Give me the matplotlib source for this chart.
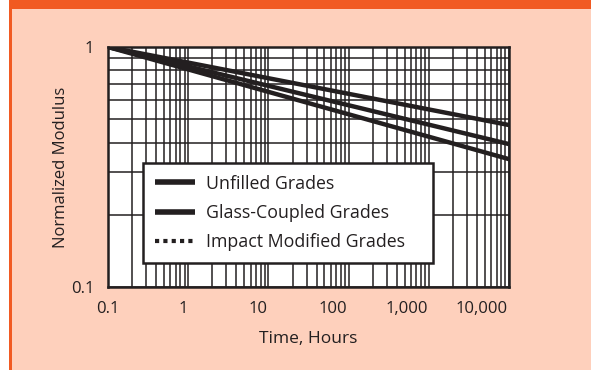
"""Creep modulus retention vs time, log-log chart
"""

import matplotlib
matplotlib.use("Agg")
import matplotlib.pyplot as plt
import matplotlib.ticker as ticker
from matplotlib.lines import Line2D
from matplotlib.patches import Rectangle

# Data
time_hours = [0.1, 10000]
unfilled = [1.0, 0.394]
glass_coupled = [1.0, 0.473]
impact_modified = [1.0, 0.341]

series_names = ["Unfilled Grades", "Glass-Coupled Grades", "Impact Modified Grades"]
tick_values = [0.1, 1, 10, 100, 1000, 10000]
tick_labels = ["0.1", "1", "10", "100", "1,000", "10,000"]

INK = "#231f20"
ORANGE = "#f15a22"
PEACH = "#fed0bc"

plt.rcParams["font.family"] = ["Open Sans", "DejaVu Sans"]

W, H = 591, 370
fig = plt.figure(figsize=(W / 100, H / 100), dpi=100, facecolor=PEACH)

# Page frame: white margin, orange bar on top and thin strip on the left
fig.patches.append(Rectangle((0, 0), 9 / W, 1, transform=fig.transFigure,
                             facecolor="white", edgecolor="none"))
fig.patches.append(Rectangle((9 / W, 1 - 9 / H), 1, 9 / H, transform=fig.transFigure,
                             facecolor=ORANGE, edgecolor="none"))
fig.patches.append(Rectangle((9 / W, 0), 3 / W, 1, transform=fig.transFigure,
                             facecolor=ORANGE, edgecolor="none"))

left, right, top, bottom = 108, 509, 47, 287
ax = fig.add_axes([left / W, 1 - bottom / H, (right - left) / W, (bottom - top) / H])
ax.set_facecolor("white")
ax.set_xscale("log")
ax.set_yscale("log")
ax.set_xlim(0.1, 10000)
ax.set_ylim(0.1, 1)

ax.xaxis.set_minor_locator(ticker.LogLocator(base=10, subs=range(2, 10)))
ax.yaxis.set_minor_locator(ticker.LogLocator(base=10, subs=range(2, 10)))
ax.xaxis.set_major_formatter(ticker.NullFormatter())
ax.xaxis.set_minor_formatter(ticker.NullFormatter())
ax.yaxis.set_minor_formatter(ticker.NullFormatter())
ax.set_yticks([0.1, 1])
ax.set_yticklabels(["0.1", "1"])
ax.tick_params(which="both", length=0, labelsize=12, colors=INK, pad=10)
ax.grid(which="both", color=INK, linewidth=1.1)
ax.set_axisbelow(True)
for sp in ax.spines.values():
    sp.set_color(INK)
    sp.set_linewidth(1.8)

for vals in (glass_coupled, unfilled, impact_modified):
    ax.plot(time_hours, vals, color=INK, linewidth=3.2, solid_capstyle="butt", zorder=3)

ax.set_ylabel("Normalized Modulus", fontsize=12, color=INK, labelpad=1)

# The printed time labels sit on their own (slightly compressed) log scale
ax2 = ax.twiny()
ax2.set_xscale("log")
ax2.set_xlim(0.1, 23000)
ax2.xaxis.set_ticks_position("bottom")
ax2.xaxis.set_label_position("bottom")
ax2.set_xticks(tick_values)
ax2.set_xticklabels(tick_labels)
ax2.xaxis.set_minor_locator(ticker.NullLocator())
ax2.tick_params(length=0, labelsize=12, colors=INK, pad=10)
ax2.set_xlabel("Time, Hours", fontsize=12.5, color=INK, labelpad=10)
for sp in ax2.spines.values():
    sp.set_visible(False)

handles = [
    Line2D([], [], color=INK, linewidth=4, solid_capstyle="butt"),
    Line2D([], [], color=INK, linewidth=4, solid_capstyle="butt"),
    Line2D([], [], color=INK, linewidth=3, linestyle=(0, (1, 1))),
]
box_x0 = (143 - left) / (right - left)
box_w = (433 - 143) / (right - left)
box_top = (bottom - 163) / (bottom - top)
leg = ax2.legend(handles, series_names, loc="upper left",
                 bbox_to_anchor=(box_x0, box_top - 0.4, box_w, 0.4), mode="expand",
                 borderaxespad=0, frameon=True, fancybox=False, framealpha=1,
                 fontsize=12.8, handlelength=2.3, handletextpad=0.6,
                 labelspacing=0.64, borderpad=0.65)
leg.get_frame().set_edgecolor(INK)
leg.get_frame().set_linewidth(1.8)
for t in leg.get_texts():
    t.set_color(INK)

fig.savefig("out.png", dpi=100, facecolor=PEACH)
